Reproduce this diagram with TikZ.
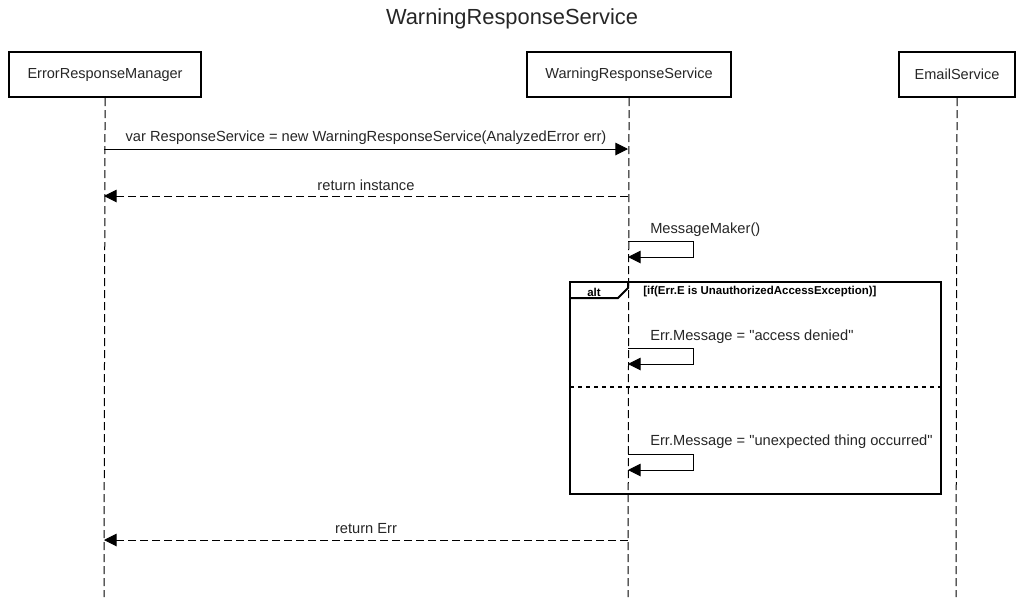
\documentclass[tikz,border=0pt]{standalone}
\usepackage{fontspec}
\setmainfont{Liberation Sans}[Ligatures=TeXOff]
\usetikzlibrary{arrows.meta}
\begin{document}
\begin{tikzpicture}[x=0.75pt,y=-0.75pt,
  actor/.style={draw,line width=1.6pt,minimum width=#1*0.75pt,minimum height=45*0.75pt,inner sep=0pt,font=\fontsize{10.9}{13}\selectfont,text=black!85,anchor=north west},
  life/.style={line width=0.75pt,dash pattern=on 6pt off 3pt},
  msg/.style={line width=0.75pt,-{Triangle[length=9.5pt,width=9.5pt]}},
  ret/.style={line width=0.75pt,dash pattern=on 6pt off 3pt,-{Triangle[length=9.5pt,width=9.5pt]}},
  lbl/.style={font=\fontsize{11}{13}\selectfont,inner sep=0pt,text=black!85},
  cnd/.style={font=\fontsize{8.6}{10}\selectfont\bfseries,inner sep=0pt,text=black},
]
\useasboundingbox (0,0) rectangle (1025,597);
\node[font=\fontsize{16.4}{19}\selectfont,text=black!85] (title) at (512,19) {WarningResponseService};
\node[actor=192] (erm) at (8,51) {ErrorResponseManager};
\node[actor=204] (wrs) at (526,51) {WarningResponseService};
\node[actor=116] (es) at (898,51) {EmailService};
\coordinate (ermE) at (104,597);
\coordinate (wrsE) at (628,597);
\coordinate (esE) at (956,597);
\draw[life] (erm.south) -- (ermE);
\draw[life] (wrs.south) -- (wrsE);
\draw[life] (es.south) -- (esE);
% alt frame
\coordinate (fA) at (570,282);
\coordinate (fB) at (941,494);
\draw[line width=1.5pt] (fA) rectangle (fB);
\coordinate (t1) at (570,298);
\coordinate (t2) at (618,298);
\coordinate (t3) at (628,288);
\coordinate (t4) at (628,282);
\draw[line width=1.5pt] (t1) -- (t2) -- (t3) -- (t4);
\node[cnd] (alt) at (594,292) {alt};
\node[cnd,anchor=west] (cond) at (643,292) {[if(Err.E is UnauthorizedAccessException)]};
\coordinate (s1) at (570,387);
\coordinate (s2) at (941,387);
\draw[line width=1.5pt,dash pattern=on 3pt off 3pt] (s1) -- (s2);
% messages
\coordinate (m1a) at (104,149);
\coordinate (m1b) at (628,149);
\draw[msg] (m1a) -- (m1b);
\node[lbl] (l1) at (366,138) {var ResponseService = new WarningResponseService(AnalyzedError err)};
\coordinate (m2a) at (628,196);
\coordinate (m2b) at (104,196);
\draw[ret] (m2a) -- (m2b);
\node[lbl] (l2) at (366,185) {return instance};
% self calls
\coordinate (a1) at (628,241);
\coordinate (a2) at (628,257);
\draw[msg] (a1) -- (693,241) -- (693,257) -- (a2);
\node[lbl,anchor=west] (l3) at (650,230) {MessageMaker()};
\coordinate (b1) at (628,348);
\coordinate (b2) at (628,364);
\draw[msg] (b1) -- (693,348) -- (693,364) -- (b2);
\node[lbl,anchor=west] (l4) at (650,337) {Err.Message = "access denied"};
\coordinate (c1) at (628,454);
\coordinate (c2) at (628,470);
\draw[msg] (c1) -- (693,454) -- (693,470) -- (c2);
\node[lbl,anchor=west] (l5) at (650,442) {Err.Message = "unexpected thing occurred"};
\coordinate (m3a) at (628,540);
\coordinate (m3b) at (104,540);
\draw[ret] (m3a) -- (m3b);
\node[lbl] (l6) at (366,529) {return Err};
\end{tikzpicture}
\end{document}
